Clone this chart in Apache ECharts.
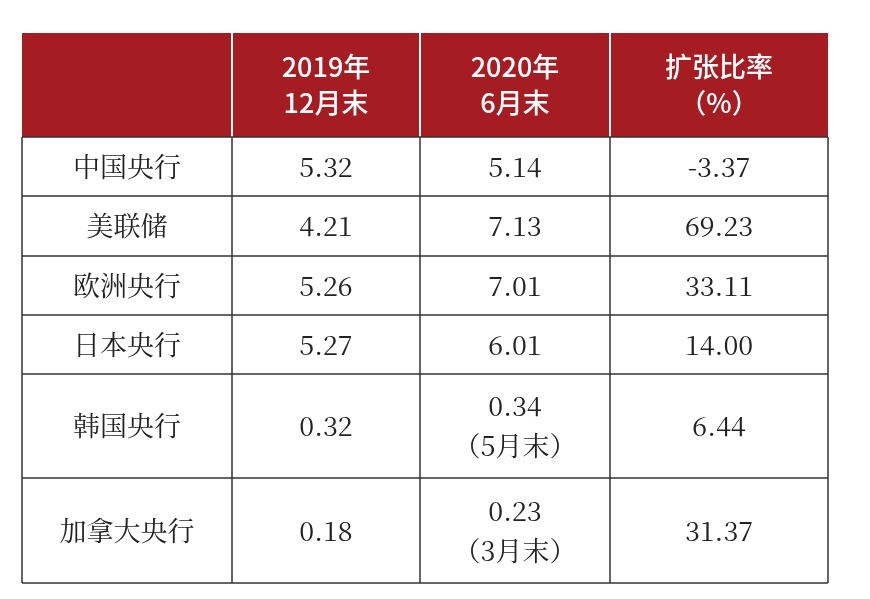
<!DOCTYPE html>
<html><head><meta charset="utf-8">
<script src="https://cdn.jsdelivr.net/npm/echarts@6/dist/echarts.min.js"></script>
<style>html,body{margin:0;padding:0;background:#fff}#c{width:870px;height:599px}</style>
</head><body><div id="c"></div>
<script>
const headers = ["", "2019年\n12月末", "2020年\n6月末", "扩张比率\n（%）"];
const banks = ["中国央行","美联储","欧洲央行","日本央行","韩国央行","加拿大央行"];
const dec2019 = ["5.32","4.21","5.26","5.27","0.32","0.18"];
const jun2020 = ["5.14","7.13","7.01","6.01","0.34\n（5月末）","0.23\n（3月末）"];
const ratio = ["-3.37","69.23","33.11","14.00","6.44","31.37"];

const colX = [22, 232, 420, 610, 828];
const rowY = [33, 137, 196, 256, 315, 374, 478, 583];
const g = [];
g.push({type:'rect',shape:{x:colX[0],y:rowY[0],width:colX[4]-colX[0],height:rowY[1]-rowY[0]},style:{fill:'#a51d23'}});
for (let c=0;c<4;c++){
  const cx=(colX[c]+colX[c+1])/2, cy=(rowY[0]+rowY[1])/2;
  g.push({type:'text',x:cx,y:cy,style:{text:headers[c],fill:'#fff',font:'500 27px "Noto Sans CJK SC", sans-serif',align:'center',verticalAlign:'middle',lineHeight:36}});
  if(c>0) g.push({type:'line',shape:{x1:colX[c],y1:rowY[0],x2:colX[c],y2:rowY[1]},style:{stroke:'#fff',lineWidth:2}});
}
const cols=[banks,dec2019,jun2020,ratio];
for(let r=0;r<banks.length;r++){
  const cy=(rowY[r+1]+rowY[r+2])/2;
  for(let c=0;c<4;c++){
    const cx=(colX[c]+colX[c+1])/2;
    g.push({type:'text',x:cx,y:cy,style:{text:cols[c][r],fill:'#222',font:'27px "Noto Serif CJK SC","Liberation Serif","Noto Sans CJK SC", serif',align:'center',verticalAlign:'middle',lineHeight:40}});
  }
}
for(let i=1;i<rowY.length;i++) g.push({type:'line',shape:{x1:colX[0],y1:rowY[i],x2:colX[4],y2:rowY[i]},style:{stroke:'#333',lineWidth:1.5}});
for(let c=0;c<colX.length;c++) g.push({type:'line',shape:{x1:colX[c],y1:rowY[1],x2:colX[c],y2:rowY[7]},style:{stroke:'#333',lineWidth:1.5}});
const chart=echarts.init(document.getElementById('c'));
chart.setOption({animation:false,graphic:{elements:g}});
</script></body></html>
